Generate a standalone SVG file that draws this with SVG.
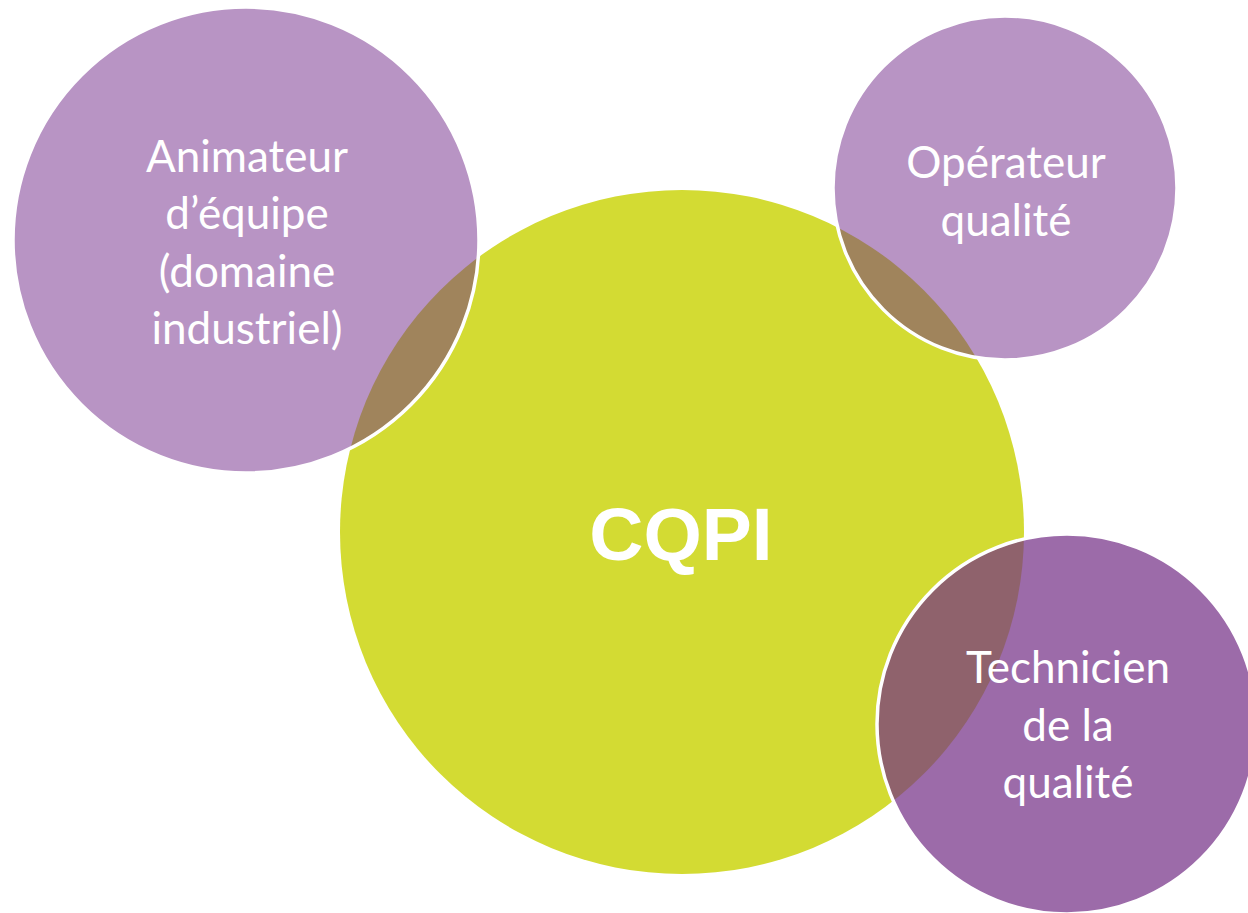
<svg xmlns="http://www.w3.org/2000/svg" width="1248" height="913" viewBox="0 0 1248 913">
<defs>
<style>
.lbl{font-family:Lato,"Open Sans","Noto Sans",sans-serif;font-size:44px;fill:#ffffff;text-anchor:middle}
.main{font-family:"Liberation Sans",Arial,sans-serif;font-weight:bold;font-size:75px;fill:#ffffff;text-anchor:middle}
.edge{fill:none;stroke:#ffffff;stroke-width:3.5}
</style>
<clipPath id="cg"><circle cx="682" cy="532" r="342"/></clipPath>
</defs>
<rect width="1248" height="913" fill="#ffffff"/>
<g id="cqpi">
<circle cx="682" cy="532" r="342" fill="#D3DB33"/>
</g>
<g id="animateur">
<circle cx="246" cy="240" r="233" fill="#B894C4"/>
<circle cx="246" cy="240" r="233" fill="#A0845C" clip-path="url(#cg)"/>
<circle cx="246" cy="240" r="233" class="edge"/>
<text class="lbl" x="247" y="172">Animateur</text>
<text class="lbl" x="247" y="229">d’équipe</text>
<text class="lbl" x="247" y="287">(domaine</text>
<text class="lbl" x="247" y="344">industriel)</text>
</g>
<g id="operateur">
<circle cx="1005" cy="188" r="172" fill="#B894C4"/>
<circle cx="1005" cy="188" r="172" fill="#A0845C" clip-path="url(#cg)"/>
<circle cx="1005" cy="188" r="172" class="edge"/>
<text class="lbl" x="1006" y="178">Opérateur</text>
<text class="lbl" x="1006" y="236">qualité</text>
</g>
<g id="technicien">
<circle cx="1067" cy="724" r="190" fill="#9C6BA9"/>
<circle cx="1067" cy="724" r="190" fill="#8F626C" clip-path="url(#cg)"/>
<circle cx="1067" cy="724" r="190" class="edge"/>
<text class="lbl" x="1068" y="683">Technicien</text>
<text class="lbl" x="1068" y="741">de la</text>
<text class="lbl" x="1068" y="798">qualité</text>
</g>
<g id="connectors"></g>
<text class="main" x="681" y="560">CQPI</text>
</svg>
